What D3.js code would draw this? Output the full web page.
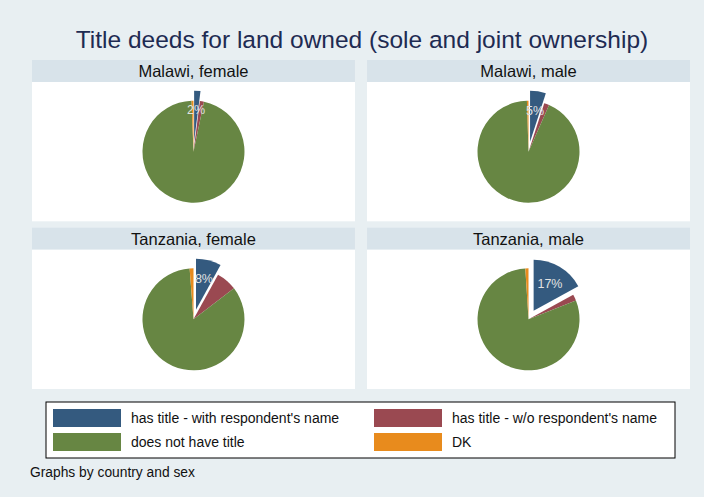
<!DOCTYPE html>
<html>
<head>
<meta charset="utf-8">
<script src="https://cdn.jsdelivr.net/npm/d3@7"></script>
<style>
  body { margin: 0; background: #e8eff2; }
  text { font-family: "Liberation Sans", Arial, sans-serif; }
</style>
</head>
<body>
<div id="chart"></div>
<script>
// legend categories, in slice order (clockwise from 12 o'clock)
const categories = ["has title - with respondent's name", "has title - w/o respondent's name",
                    "does not have title", "DK"];
const colors = ["#345a7f", "#9a4951", "#678643", "#e88b1d"];

// panels (country, sex) and the percent shares of each category
const panels = ["Malawi, female", "Malawi, male", "Tanzania, female", "Tanzania, male"];
const malawiFemale   = [2, 1.3, 96.1, 0.6];
const malawiMale     = [5, 1.6, 92.9, 0.5];
const tanzaniaFemale = [8, 6.6, 84.2, 1.2];
const tanzaniaMale   = [17, 2, 80, 1];
const panelValues = [malawiFemale, malawiMale, tanzaniaFemale, tanzaniaMale];

const W = 704, H = 497;
const svg = d3.select("#chart").append("svg")
  .attr("width", W).attr("height", H);

svg.append("rect").attr("width", W).attr("height", H).attr("fill", "#e8eff2");

svg.append("text")
  .attr("x", 362).attr("y", 48)
  .attr("text-anchor", "middle")
  .attr("font-size", 24.5)
  .attr("fill", "#1e2b52")
  .text("Title deeds for land owned (sole and joint ownership)");

// grid of panels
const col = d3.scaleBand().domain([0, 1]).range([32, 690]).paddingInner(0.036);
const row = d3.scaleBand().domain([0, 1]).range([60, 389]).paddingInner(0.038);
const stripH = 22;
const radius = 51;
const explode = 10;

const pie = d3.pie().sort(null).value(d => d);
const arc = d3.arc().innerRadius(0).outerRadius(radius);

panels.forEach(function(name, i) {
  const x0 = col(i % 2), y0 = row(Math.floor(i / 2));
  const w = col.bandwidth(), h = row.bandwidth();
  const g = svg.append("g").attr("transform", "translate(" + x0 + "," + y0 + ")");

  g.append("rect").attr("width", w).attr("height", stripH).attr("fill", "#d8e3ea");
  g.append("rect").attr("y", stripH).attr("width", w).attr("height", h - stripH).attr("fill", "#ffffff");
  g.append("text")
    .attr("x", w / 2).attr("y", stripH / 2 + 6)
    .attr("text-anchor", "middle")
    .attr("font-size", 16.5)
    .attr("fill", "#111")
    .text(name);

  const cx = w / 2, cy = stripH + (h - stripH) / 2;
  const pg = g.append("g").attr("transform", "translate(" + cx + "," + cy + ")");
  const vals = panelValues[i];
  const total = d3.sum(vals);
  const arcs = pie(vals);

  pg.selectAll("path")
    .data(arcs)
    .enter().append("path")
    .attr("d", arc)
    .attr("fill", (d, j) => colors[j])
    .attr("transform", function(d, j) {
      if (j !== 0) return null;
      const a = (d.startAngle + d.endAngle) / 2;
      return "translate(" + (explode * Math.sin(a)) + "," + (-explode * Math.cos(a)) + ")";
    });

  // percent label for the first (exploded) slice
  const a0 = (arcs[0].startAngle + arcs[0].endAngle) / 2;
  const rl = explode + 0.63 * radius;
  pg.append("text")
    .attr("x", rl * Math.sin(a0))
    .attr("y", -rl * Math.cos(a0) + 4.5)
    .attr("text-anchor", "middle")
    .attr("font-size", 12.5)
    .attr("fill", "#e2e2e2")
    .text(Math.round(vals[0] / total * 100) + "%");
});

// legend
const lg = svg.append("g").attr("transform", "translate(46,402)");
lg.append("rect").attr("width", 629).attr("height", 56)
  .attr("fill", "#ffffff").attr("stroke", "#000").attr("stroke-width", 1);

const lx = d3.scaleOrdinal().domain([0, 1]).range([7, 328]);
const ly = d3.scaleOrdinal().domain([0, 1]).range([7, 31]);

categories.forEach(function(c, j) {
  const gx = lx(j % 2), gy = ly(Math.floor(j / 2));
  lg.append("rect").attr("x", gx).attr("y", gy).attr("width", 68).attr("height", 18)
    .attr("fill", colors[j]);
  lg.append("text").attr("x", gx + 78).attr("y", gy + 14)
    .attr("font-size", 14).attr("fill", "#111").text(c);
});

svg.append("text")
  .attr("x", 30).attr("y", 477)
  .attr("font-size", 13.8)
  .attr("fill", "#111")
  .text("Graphs by country and sex");
</script>
</body>
</html>
